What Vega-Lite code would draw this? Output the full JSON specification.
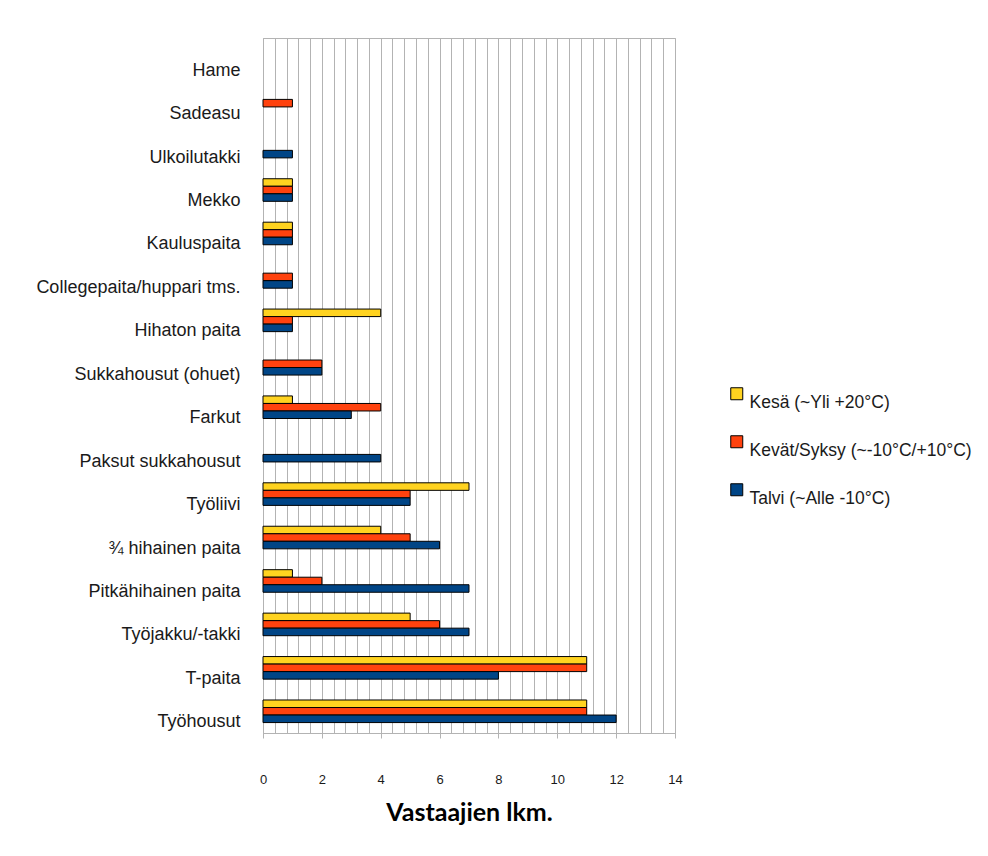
{
  "$schema": "https://vega.github.io/schema/vega-lite/v6.json",
  "width": 412,
  "height": 695,
  "autosize": {"type": "none"},
  "padding": {"left": 263, "top": 38, "right": 313, "bottom": 123},
  "background": "white",
  "config": {
    "view": {"stroke": "#b3b3b3", "strokeWidth": 1},
    "font": "Liberation Sans"
  },
  "data": {
    "values": [
      {"item": "Sadeasu", "season": "Kevät/Syksy (~-10°C/+10°C)", "count": 1},
      {"item": "Ulkoilutakki", "season": "Talvi (~Alle -10°C)", "count": 1},
      {"item": "Mekko", "season": "Kesä  (~Yli +20°C)", "count": 1},
      {"item": "Mekko", "season": "Kevät/Syksy (~-10°C/+10°C)", "count": 1},
      {"item": "Mekko", "season": "Talvi (~Alle -10°C)", "count": 1},
      {"item": "Kauluspaita", "season": "Kesä  (~Yli +20°C)", "count": 1},
      {"item": "Kauluspaita", "season": "Kevät/Syksy (~-10°C/+10°C)", "count": 1},
      {"item": "Kauluspaita", "season": "Talvi (~Alle -10°C)", "count": 1},
      {"item": "Collegepaita/huppari tms.", "season": "Kevät/Syksy (~-10°C/+10°C)", "count": 1},
      {"item": "Collegepaita/huppari tms.", "season": "Talvi (~Alle -10°C)", "count": 1},
      {"item": "Hihaton paita", "season": "Kesä  (~Yli +20°C)", "count": 4},
      {"item": "Hihaton paita", "season": "Kevät/Syksy (~-10°C/+10°C)", "count": 1},
      {"item": "Hihaton paita", "season": "Talvi (~Alle -10°C)", "count": 1},
      {"item": "Sukkahousut (ohuet)", "season": "Kevät/Syksy (~-10°C/+10°C)", "count": 2},
      {"item": "Sukkahousut (ohuet)", "season": "Talvi (~Alle -10°C)", "count": 2},
      {"item": "Farkut", "season": "Kesä  (~Yli +20°C)", "count": 1},
      {"item": "Farkut", "season": "Kevät/Syksy (~-10°C/+10°C)", "count": 4},
      {"item": "Farkut", "season": "Talvi (~Alle -10°C)", "count": 3},
      {"item": "Paksut sukkahousut", "season": "Talvi (~Alle -10°C)", "count": 4},
      {"item": "Työliivi", "season": "Kesä  (~Yli +20°C)", "count": 7},
      {"item": "Työliivi", "season": "Kevät/Syksy (~-10°C/+10°C)", "count": 5},
      {"item": "Työliivi", "season": "Talvi (~Alle -10°C)", "count": 5},
      {"item": "¾ hihainen paita", "season": "Kesä  (~Yli +20°C)", "count": 4},
      {"item": "¾ hihainen paita", "season": "Kevät/Syksy (~-10°C/+10°C)", "count": 5},
      {"item": "¾ hihainen paita", "season": "Talvi (~Alle -10°C)", "count": 6},
      {"item": "Pitkähihainen paita", "season": "Kesä  (~Yli +20°C)", "count": 1},
      {"item": "Pitkähihainen paita", "season": "Kevät/Syksy (~-10°C/+10°C)", "count": 2},
      {"item": "Pitkähihainen paita", "season": "Talvi (~Alle -10°C)", "count": 7},
      {"item": "Työjakku/-takki", "season": "Kesä  (~Yli +20°C)", "count": 5},
      {"item": "Työjakku/-takki", "season": "Kevät/Syksy (~-10°C/+10°C)", "count": 6},
      {"item": "Työjakku/-takki", "season": "Talvi (~Alle -10°C)", "count": 7},
      {"item": "T-paita", "season": "Kesä  (~Yli +20°C)", "count": 11},
      {"item": "T-paita", "season": "Kevät/Syksy (~-10°C/+10°C)", "count": 11},
      {"item": "T-paita", "season": "Talvi (~Alle -10°C)", "count": 8},
      {"item": "Työhousut", "season": "Kesä  (~Yli +20°C)", "count": 11},
      {"item": "Työhousut", "season": "Kevät/Syksy (~-10°C/+10°C)", "count": 11},
      {"item": "Työhousut", "season": "Talvi (~Alle -10°C)", "count": 12}
    ]
  },
  "mark": {"type": "bar", "stroke": "#000000", "strokeWidth": 1},
  "encoding": {
    "y": {
      "field": "item",
      "type": "nominal",
      "scale": {
        "domain": ["Hame", "Sadeasu", "Ulkoilutakki", "Mekko", "Kauluspaita", "Collegepaita/huppari tms.", "Hihaton paita", "Sukkahousut (ohuet)", "Farkut", "Paksut sukkahousut", "Työliivi", "¾ hihainen paita", "Pitkähihainen paita", "Työjakku/-takki", "T-paita", "Työhousut"],
        "paddingInner": 0.48,
        "paddingOuter": 0.24
      },
      "axis": {
        "title": null,
        "ticks": false,
        "domain": true,
        "domainColor": "#b3b3b3",
        "labelFont": "Liberation Sans",
        "labelFontSize": 18,
        "labelColor": "#1a1a1a",
        "labelPadding": 23,
        "labelOffset": 11,
        "labelLimit": 300
      }
    },
    "yOffset": {
      "field": "season",
      "type": "nominal",
      "scale": {"domain": ["Kesä  (~Yli +20°C)", "Kevät/Syksy (~-10°C/+10°C)", "Talvi (~Alle -10°C)"], "paddingInner": 0, "paddingOuter": 0}
    },
    "x": {
      "field": "count",
      "type": "quantitative",
      "scale": {"domain": [0, 14], "nice": false, "zero": true},
      "axis": {
        "title": "Vastaajien lkm.",
        "titleFont": "Lato",
        "titleFontWeight": "bold",
        "titleFontSize": 25,
        "titleColor": "#000000",
        "titlePadding": 14,
        "values": [0, 0.4, 0.8, 1.2, 1.6, 2, 2.4, 2.8, 3.2, 3.6, 4, 4.4, 4.8, 5.2, 5.6, 6, 6.4, 6.8, 7.2, 7.6, 8, 8.4, 8.8, 9.2, 9.6, 10, 10.4, 10.8, 11.2, 11.6, 12, 12.4, 12.8, 13.2, 13.6, 14],
        "labelExpr": "datum.value % 2 === 0 ? ('' + datum.value) : ''",
        "labelFont": "Liberation Sans",
        "labelFontSize": 13,
        "labelColor": "#1a1a1a",
        "labelPadding": 35,
        "labelFlush": false,
        "labelOverlap": false,
        "grid": true,
        "gridColor": "#b3b3b3",
        "gridWidth": 1,
        "ticks": true,
        "tickSize": 5,
        "tickColor": "#b3b3b3",
        "tickOpacity": {"condition": {"test": "datum.value % 2 === 0", "value": 1}, "value": 0},
        "domainColor": "#b3b3b3"
      }
    },
    "color": {
      "field": "season",
      "type": "nominal",
      "scale": {
        "domain": ["Kesä  (~Yli +20°C)", "Kevät/Syksy (~-10°C/+10°C)", "Talvi (~Alle -10°C)"],
        "range": ["#FFD320", "#FF420E", "#004586"]
      },
      "legend": {
        "title": null,
        "orient": "none",
        "legendX": 465,
        "legendY": 347,
        "padding": 0,
        "symbolType": "square",
        "symbolSize": 144,
        "symbolStrokeColor": "#000000",
        "symbolStrokeWidth": 1,
        "symbolOpacity": 1,
        "labelFont": "Liberation Sans",
        "labelFontSize": 17.5,
        "labelColor": "#1a1a1a",
        "labelBaseline": "top",
        "labelOffset": 4,
        "labelLimit": 300,
        "rowPadding": 21
      }
    }
  }
}
